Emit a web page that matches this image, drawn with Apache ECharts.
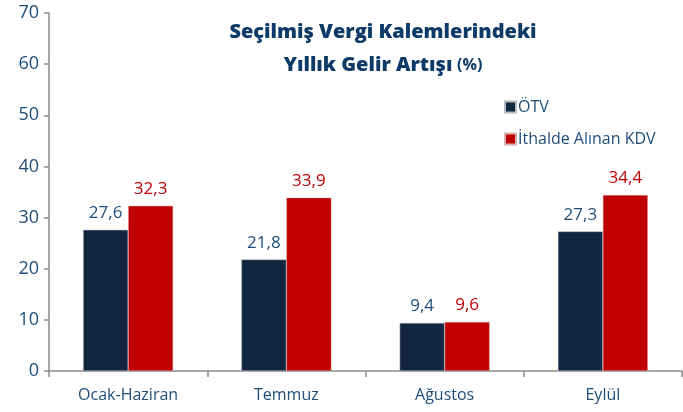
<!DOCTYPE html>
<html>
<head>
<meta charset="utf-8">
<script src="https://cdn.jsdelivr.net/npm/echarts@6/dist/echarts.min.js"></script>
<style>
  html, body { margin: 0; padding: 0; background: #fff; }
  #chart { width: 683px; height: 412px; }
</style>
</head>
<body>
<div id="chart"></div>
<script>
// veriler
var categories = ['Ocak-Haziran', 'Temmuz', 'Ağustos', 'Eylül'];
var otvValues = [27.6, 21.8, 9.4, 27.3];
var kdvValues = [32.3, 33.9, 9.6, 34.4];
var yTicks = [0, 10, 20, 30, 40, 50, 60, 70];

var fontName = '"Open Sans", sans-serif';
var textBlue = '#1f4e79';

var fmt = function (p) {
    return String(p.value).replace('.', ',');
};

var chart = echarts.init(document.getElementById('chart'));
chart.setOption({
    animation: false,
    textStyle: { fontFamily: fontName },
    title: {
        text: '{b|Seçilmiş Vergi Kalemlerindeki}\n{b|Yıllık Gelir Artışı} {s|(%)}',
        left: 378,
        top: 11,
        textAlign: 'center',
        textStyle: {
            rich: {
                b: { fontFamily: fontName, fontSize: 20, fontWeight: 800, color: '#0d3a66', lineHeight: 33 },
                s: { fontFamily: fontName, fontSize: 16, fontWeight: 'bold', color: '#0d3a66', lineHeight: 33 }
            }
        }
    },
    legend: {
        orient: 'vertical',
        left: 499,
        top: 94,
        itemWidth: 11,
        itemHeight: 11,
        itemGap: 16,
        icon: 'rect',
        textStyle: { fontFamily: fontName, fontSize: 16, color: textBlue, padding: [0, 0, 0, -3] },
        data: ['ÖTV', 'İthalde Alınan KDV']
    },
    grid: { left: 49, right: 1, top: 13, bottom: 41 },
    xAxis: {
        type: 'category',
        data: categories,
        axisLine: { lineStyle: { color: '#8c8c8c', width: 1.5 } },
        axisTick: { show: true, length: 6, lineStyle: { color: '#8c8c8c', width: 1.5 } },
        axisLabel: { fontSize: 16, color: textBlue, margin: 16 }
    },
    yAxis: {
        type: 'value',
        min: yTicks[0],
        max: yTicks[yTicks.length - 1],
        interval: 10,
        splitLine: { show: false },
        axisLine: { show: true, lineStyle: { color: '#8c8c8c', width: 1.5 } },
        axisTick: { show: true, length: 5, lineStyle: { color: '#8c8c8c', width: 1.5 } },
        axisLabel: { fontSize: 18, color: textBlue, margin: 10 }
    },
    series: [
        {
            name: 'ÖTV',
            type: 'bar',
            data: otvValues,
            barWidth: 45,
            barGap: '0%',
            itemStyle: { color: '#13263f', borderColor: '#b8bcc4', borderWidth: 0.5 },
            label: { show: true, position: 'top', distance: 8, formatter: fmt, fontSize: 17, color: textBlue }
        },
        {
            name: 'İthalde Alınan KDV',
            type: 'bar',
            data: kdvValues,
            barWidth: 45,
            itemStyle: { color: '#c00000', borderColor: '#d8b0b0', borderWidth: 0.5 },
            label: { show: true, position: 'top', distance: 8, formatter: fmt, fontSize: 17, color: '#c00000' }
        }
    ]
});
</script>
</body>
</html>
